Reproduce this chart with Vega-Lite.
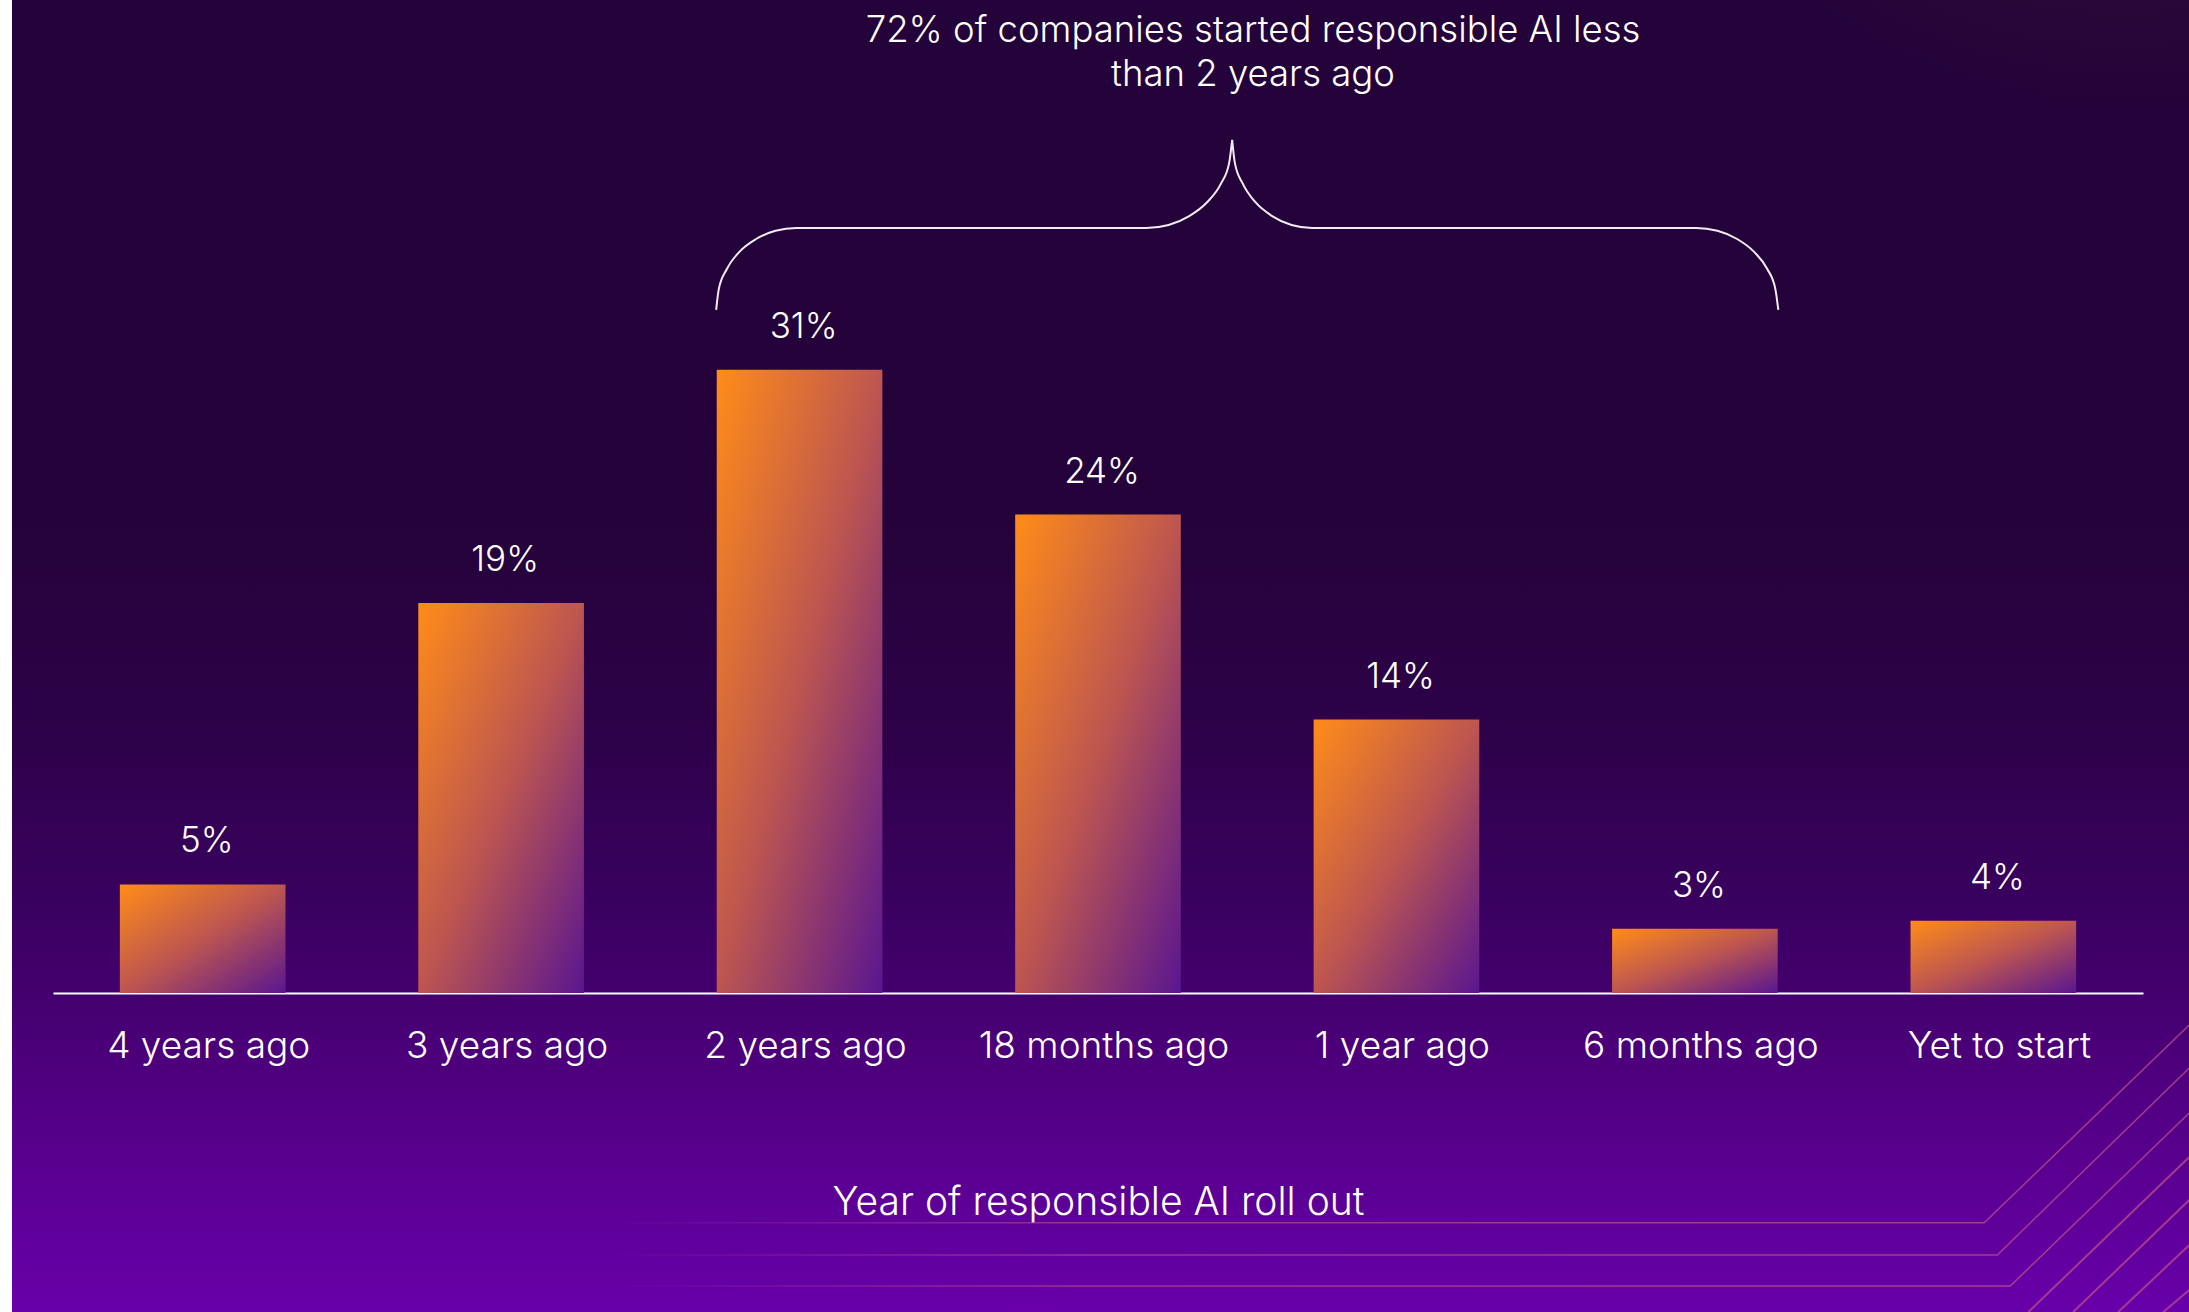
{
  "$schema": "https://vega.github.io/schema/vega-lite/v6.json",
  "width": 2177,
  "height": 1312,
  "autosize": {"type": "none"},
  "padding": {"left": 12, "top": 0, "right": 0, "bottom": 0},
  "background": "#ffffff",
  "view": {
    "stroke": null,
    "fill": {
      "gradient": "linear", "x1": 0, "y1": 0, "x2": 0, "y2": 1,
      "stops": [
        {"offset": 0, "color": "#23033a"},
        {"offset": 0.4, "color": "#25033a"},
        {"offset": 0.55, "color": "#2d0248"},
        {"offset": 0.68, "color": "#38015e"},
        {"offset": 0.76, "color": "#44006e"},
        {"offset": 0.88, "color": "#58008e"},
        {"offset": 1, "color": "#6800aa"}
      ]
    }
  },
  "config": {"font": "Inter"},
  "datasets": {
    "bars": [
      {"period": "4 years ago", "pct": 5.4, "label": "5%"},
      {"period": "3 years ago", "pct": 19.4, "label": "19%"},
      {"period": "2 years ago", "pct": 31, "label": "31%"},
      {"period": "18 months ago", "pct": 23.8, "label": "24%"},
      {"period": "1 year ago", "pct": 13.6, "label": "14%"},
      {"period": "6 months ago", "pct": 3.2, "label": "3%"},
      {"period": "Yet to start", "pct": 3.6, "label": "4%"}
    ],
    "bracket": [
      {"side": "L", "ord": 0, "u": 2.222, "w": 33.98},
      {"side": "L", "ord": 1, "u": 2.231, "w": 35.03},
      {"side": "L", "ord": 2, "u": 2.258, "w": 36.02},
      {"side": "L", "ord": 3, "u": 2.300, "w": 36.87},
      {"side": "L", "ord": 4, "u": 2.356, "w": 37.51},
      {"side": "L", "ord": 5, "u": 2.421, "w": 37.92},
      {"side": "L", "ord": 6, "u": 2.490, "w": 38.06},
      {"side": "L", "ord": 7, "u": 3.663, "w": 38.06},
      {"side": "L", "ord": 8, "u": 3.738, "w": 38.21},
      {"side": "L", "ord": 9, "u": 3.807, "w": 38.65},
      {"side": "L", "ord": 10, "u": 3.867, "w": 39.34},
      {"side": "L", "ord": 11, "u": 3.913, "w": 40.25},
      {"side": "L", "ord": 12, "u": 3.941, "w": 41.30},
      {"side": "L", "ord": 13, "u": 3.951, "w": 42.44},
      {"side": "R", "ord": 13, "u": 3.951, "w": 42.44},
      {"side": "R", "ord": 14, "u": 3.960, "w": 41.30},
      {"side": "R", "ord": 15, "u": 3.987, "w": 40.25},
      {"side": "R", "ord": 16, "u": 4.029, "w": 39.34},
      {"side": "R", "ord": 17, "u": 4.085, "w": 38.65},
      {"side": "R", "ord": 18, "u": 4.150, "w": 38.21},
      {"side": "R", "ord": 19, "u": 4.219, "w": 38.06},
      {"side": "R", "ord": 20, "u": 5.506, "w": 38.06},
      {"side": "R", "ord": 21, "u": 5.577, "w": 37.92},
      {"side": "R", "ord": 22, "u": 5.643, "w": 37.51},
      {"side": "R", "ord": 23, "u": 5.700, "w": 36.87},
      {"side": "R", "ord": 24, "u": 5.744, "w": 36.02},
      {"side": "R", "ord": 25, "u": 5.771, "w": 35.03},
      {"side": "R", "ord": 26, "u": 5.781, "w": 33.98}
    ],
    "decorLong": [
      {"id": "a", "ord": 0, "u": 1.85, "w": -11.43},
      {"id": "a", "ord": 1, "u": 6.471, "w": -11.43},
      {"id": "a", "ord": 2, "u": 7.158, "w": -1.59},
      {"id": "b", "ord": 0, "u": 1.85, "w": -13.03},
      {"id": "b", "ord": 1, "u": 6.515, "w": -13.03},
      {"id": "b", "ord": 2, "u": 7.158, "w": -3.73},
      {"id": "c", "ord": 0, "u": 1.85, "w": -14.58},
      {"id": "c", "ord": 1, "u": 6.558, "w": -14.58},
      {"id": "c", "ord": 2, "u": 7.158, "w": -5.97}
    ],
    "decorShort": [
      {"id": "d", "ord": 0, "u": 6.619, "w": -15.87},
      {"id": "d", "ord": 1, "u": 7.158, "w": -8.16},
      {"id": "e", "ord": 0, "u": 6.769, "w": -15.87},
      {"id": "e", "ord": 1, "u": 7.158, "w": -10.30},
      {"id": "f", "ord": 0, "u": 6.920, "w": -15.87},
      {"id": "f", "ord": 1, "u": 7.158, "w": -12.54},
      {"id": "g", "ord": 0, "u": 7.071, "w": -15.87},
      {"id": "g", "ord": 1, "u": 7.158, "w": -14.78}
    ]
  },
  "resolve": {"scale": {"x": "independent"}},
  "layer": [
    {
      "data": {"values": [{}]},
      "mark": {
        "type": "rect",
        "fill": {
          "gradient": "radial", "x1": 0.47, "y1": 1.0, "x2": 0.47, "y2": 1.0, "r1": 0, "r2": 0.2,
          "stops": [
            {"offset": 0, "color": "rgba(160,0,225,0.75)"},
            {"offset": 1, "color": "rgba(160,0,225,0)"}
          ]
        }
      },
      "encoding": {}
    },
    {
      "data": {"values": [{}]},
      "mark": {
        "type": "rect",
        "fill": {
          "gradient": "radial", "x1": 0.0, "y1": 0.9, "x2": 0.0, "y2": 0.9, "r1": 0, "r2": 0.1,
          "stops": [
            {"offset": 0, "color": "rgba(135,0,195,0.8)"},
            {"offset": 1, "color": "rgba(135,0,195,0)"}
          ]
        }
      },
      "encoding": {}
    },
    {
      "data": {"values": [{}]},
      "mark": {
        "type": "rect",
        "fill": {
          "gradient": "radial", "x1": 1.0, "y1": 1.0, "x2": 1.0, "y2": 1.0, "r1": 0, "r2": 0.16,
          "stops": [
            {"offset": 0, "color": "rgba(150,0,210,0.7)"},
            {"offset": 1, "color": "rgba(150,0,210,0)"}
          ]
        }
      },
      "encoding": {}
    },
    {
      "data": {"values": [{}]},
      "mark": {
        "type": "rect",
        "fill": {
          "gradient": "radial", "x1": 0.97, "y1": 0.0, "x2": 0.97, "y2": 0.0, "r1": 0, "r2": 0.25,
          "stops": [
            {"offset": 0, "color": "rgba(75,30,50,0.75)"},
            {"offset": 1, "color": "rgba(75,30,50,0)"}
          ]
        }
      },
      "encoding": {}
    },
    {
      "encoding": {
        "x": {"field": "period", "type": "nominal", "sort": null,
          "scale": {"range": [41, 2131], "paddingInner": 0.445, "paddingOuter": 0.224},
          "axis": {
            "orient": "bottom", "offset": -319,
            "domainColor": "#ffffff", "domainWidth": 2,
            "ticks": false, "tickSize": 0, "grid": false,
            "labelAngle": 0, "labelColor": "#ffffff", "labelFont": "Inter", "labelFontSize": 37,
            "labelFontWeight": 300, "labelPadding": 64, "labelBaseline": "alphabetic", "labelLimit": 0,
            "labelOverlap": false, "labelOffset": 6,
            "title": "Year of responsible AI roll out",
            "titleColor": "#ffffff", "titleFont": "Inter", "titleFontSize": 39, "titleFontWeight": 300,
            "titleY": 221, "titleBaseline": "alphabetic", "titleLimit": 0
          }
        },
        "y": {"field": "pct", "type": "quantitative",
          "scale": {"domain": [0, 49.4], "range": [993, 0], "nice": false, "zero": false},
          "axis": null}
      },
      "layer": [
        {
          "data": {"name": "bars"},
          "mark": {
            "type": "bar",
            "fill": {
              "gradient": "linear", "x1": 0, "y1": 0, "x2": 1, "y2": 1,
              "stops": [
                {"offset": 0, "color": "#ff8c18"},
                {"offset": 0.5, "color": "#bd5650"},
                {"offset": 1, "color": "#5a1690"}
              ]
            }
          }
        },
        {
          "data": {"name": "bars"},
          "mark": {"type": "text", "baseline": "alphabetic", "dy": -32, "dx": 4, "fontSize": 35, "fontWeight": 300, "color": "#ffffff"},
          "encoding": {"text": {"field": "label"}}
        }
      ]
    },
    {
      "layer": [
        {
          "data": {"name": "decorLong"},
          "mark": {
            "type": "line", "strokeWidth": 1.5,
            "stroke": {
              "gradient": "linear", "x1": 0, "y1": 0, "x2": 1, "y2": 0,
              "stops": [
                {"offset": 0, "color": "rgba(180,72,140,0)"},
                {"offset": 0.3, "color": "rgba(180,72,140,0.7)"},
                {"offset": 1, "color": "rgba(180,72,140,0.85)"}
              ]
            }
          },
          "encoding": {
            "x": {"field": "u", "type": "quantitative", "scale": {"domain": [0, 7.003], "range": [41, 2131], "nice": false, "zero": false}, "axis": null},
            "y": {"field": "w", "type": "quantitative", "scale": {"domain": [0, 49.4], "range": [993, 0], "nice": false, "zero": false}, "axis": null},
            "detail": {"field": "id"},
            "order": {"field": "ord"}
          }
        },
        {
          "data": {"name": "decorShort"},
          "mark": {"type": "line", "strokeWidth": 2, "stroke": "#b4488c", "strokeOpacity": 0.8},
          "encoding": {
            "x": {"field": "u", "type": "quantitative", "axis": null},
            "y": {"field": "w", "type": "quantitative", "axis": null},
            "detail": {"field": "id"},
            "order": {"field": "ord"}
          }
        },
        {
          "data": {"name": "bracket"},
          "mark": {"type": "line", "stroke": "#f4ecf4", "strokeWidth": 2, "interpolate": "monotone"},
          "encoding": {
            "x": {"field": "u", "type": "quantitative", "axis": null},
            "y": {"field": "w", "type": "quantitative", "axis": null},
            "detail": {"field": "side"},
            "order": {"field": "ord"}
          }
        },
        {
          "data": {"values": [{}]},
          "mark": {"type": "text", "align": "center", "baseline": "alphabetic", "fontSize": 36.5, "fontWeight": 300, "lineHeight": 44, "color": "#ffffff"},
          "encoding": {
            "x": {"datum": 4.021, "type": "quantitative", "axis": null},
            "y": {"datum": 47.31, "type": "quantitative", "axis": null},
            "text": {"value": ["72% of companies started responsible AI less", "than 2 years ago"]}
          }
        }
      ]
    }
  ]
}
